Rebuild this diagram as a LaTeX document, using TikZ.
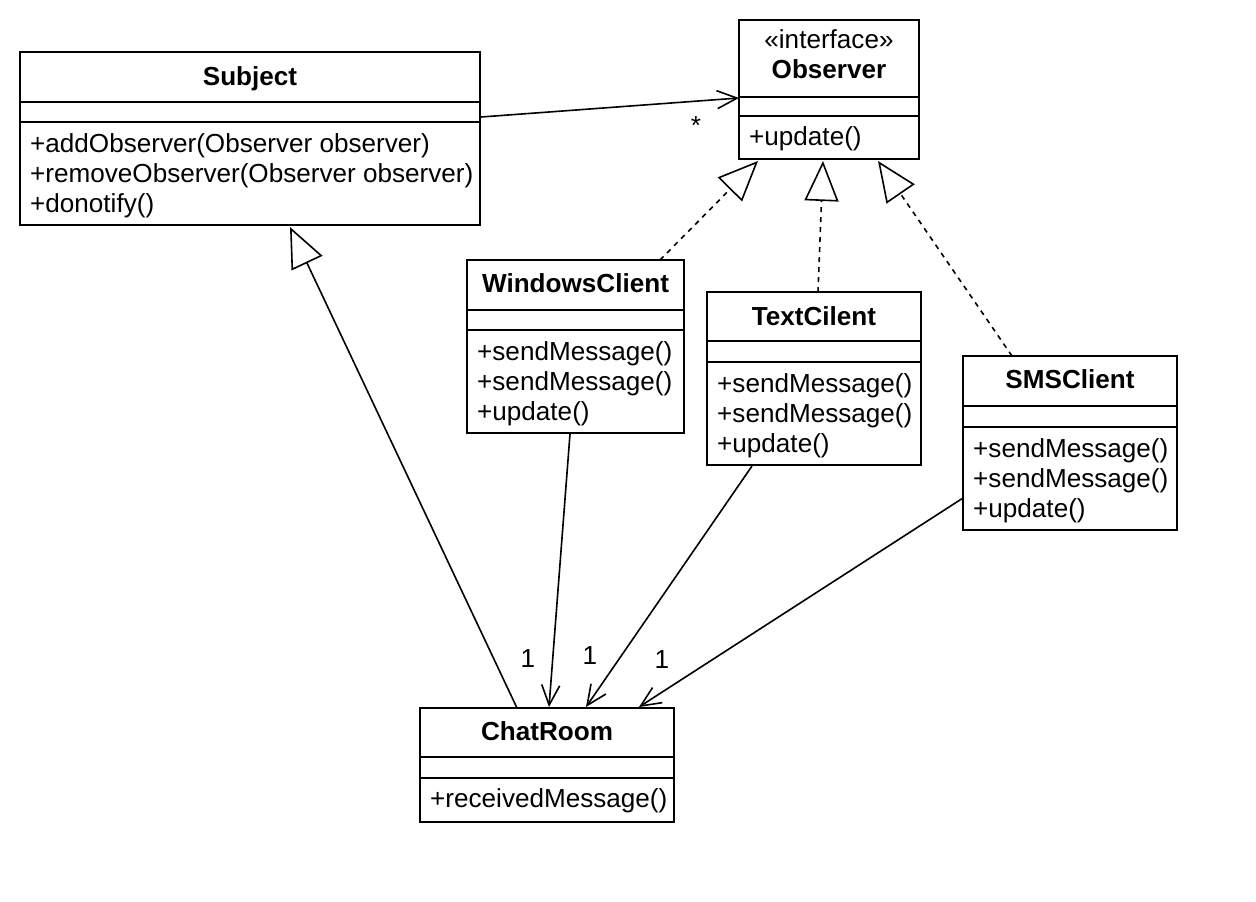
\documentclass[tikz,border=0pt]{standalone}
\usepackage{fontspec}
\setmainfont{Liberation Sans}
\usetikzlibrary{arrows.meta,calc,backgrounds}
\tikzset{
  cls/.style={draw, line width=2pt, fill=white, anchor=north west, inner sep=0pt, outer sep=0pt},
  shd/.style={fill=black!7, draw=none},
  ttl/.style={anchor=base, inner sep=0pt, font=\fontsize{26.1}{30}\selectfont\bfseries},
  stereo/.style={anchor=base, inner sep=0pt, font=\fontsize{26.1}{30}\selectfont},
  mth/.style={anchor=base west, inner sep=0pt, font=\fontsize{26.1}{30}\selectfont},
  lbl/.style={anchor=base, inner sep=0pt, font=\fontsize{26.1}{30}\selectfont},
  sepline/.style={line width=2pt},
  assoc/.style={line width=1.6pt, -{Straight Barb[length=20pt,width=18pt]}},
  gen/.style={line width=1.6pt, -{Triangle[length=40pt,width=34pt,fill=white]}},
  real/.style={gen, dash pattern=on 5pt off 5pt}
}
\begin{document}
\begin{tikzpicture}[x=1pt,y=-1pt]
\useasboundingbox[fill=white] (0,0) rectangle (1256,902);

% ---------- class boxes ----------
\node[cls, minimum width=460pt, minimum height=173pt] (sub)  at (20,52)  {};
\node[cls, minimum width=180pt, minimum height=139pt] (obs)  at (739,20) {};
\node[cls, minimum width=217pt, minimum height=173pt] (wc)   at (467,260) {};
\node[cls, minimum width=214pt, minimum height=173pt] (tc)   at (707,292) {};
\node[cls, minimum width=214pt, minimum height=174pt] (sms)  at (963,356) {};
\node[cls, minimum width=254pt, minimum height=114pt] (chat) at (420,708) {};

% ---------- shadows ----------
\begin{pgfonlayer}{background}
\foreach \b in {sub,obs,wc,tc,sms,chat}{
  \fill[shd] ($(\b.north west)+(14,14)$) rectangle ($(\b.south east)+(14,14)$);
}
\end{pgfonlayer}

% ---------- Subject ----------
\draw[sepline] ($(sub.north west)+(0,50)$) -- ($(sub.north east)+(0,50)$);
\draw[sepline] ($(sub.north west)+(0,70)$) -- ($(sub.north east)+(0,70)$);
\node[ttl] (subT) at ($(sub.north)+(0,33)$) {Subject};
\node[mth] (subM1) at ($(sub.north west)+(10,100)$) {+addObserver(Observer observer)};
\node[mth] (subM2) at ($(sub.north west)+(10,130)$) {+removeObserver(Observer observer)};
\node[mth] (subM3) at ($(sub.north west)+(10,160)$) {+donotify()};

% ---------- Observer ----------
\draw[sepline] ($(obs.north west)+(0,77)$) -- ($(obs.north east)+(0,77)$);
\draw[sepline] ($(obs.north west)+(0,96)$) -- ($(obs.north east)+(0,96)$);
\node[stereo] (obsS) at ($(obs.north)+(0,28)$) {«interface»};
\node[ttl] (obsT) at ($(obs.north)+(0,58)$) {Observer};
\node[mth] (obsM1) at ($(obs.north west)+(10,125)$) {+update()};

% ---------- WindowsClient ----------
\draw[sepline] ($(wc.north west)+(0,50)$) -- ($(wc.north east)+(0,50)$);
\draw[sepline] ($(wc.north west)+(0,70)$) -- ($(wc.north east)+(0,70)$);
\node[ttl] (wcT) at ($(wc.north)+(0,32)$) {WindowsClient};
\node[mth] (wcM1) at ($(wc.north west)+(10,100)$) {+sendMessage()};
\node[mth] (wcM2) at ($(wc.north west)+(10,130)$) {+sendMessage()};
\node[mth] (wcM3) at ($(wc.north west)+(10,160)$) {+update()};

% ---------- TextCilent ----------
\draw[sepline] ($(tc.north west)+(0,49)$) -- ($(tc.north east)+(0,49)$);
\draw[sepline] ($(tc.north west)+(0,70)$) -- ($(tc.north east)+(0,70)$);
\node[ttl] (tcT) at ($(tc.north)+(0,33)$) {TextCilent};
\node[mth] (tcM1) at ($(tc.north west)+(10,100)$) {+sendMessage()};
\node[mth] (tcM2) at ($(tc.north west)+(10,130)$) {+sendMessage()};
\node[mth] (tcM3) at ($(tc.north west)+(10,160)$) {+update()};

% ---------- SMSClient ----------
\draw[sepline] ($(sms.north west)+(0,50)$) -- ($(sms.north east)+(0,50)$);
\draw[sepline] ($(sms.north west)+(0,71)$) -- ($(sms.north east)+(0,71)$);
\node[ttl] (smsT) at ($(sms.north)+(0,32)$) {SMSClient};
\node[mth] (smsM1) at ($(sms.north west)+(10,101)$) {+sendMessage()};
\node[mth] (smsM2) at ($(sms.north west)+(10,131)$) {+sendMessage()};
\node[mth] (smsM3) at ($(sms.north west)+(10,161)$) {+update()};

% ---------- ChatRoom ----------
\draw[sepline] ($(chat.north west)+(0,49)$) -- ($(chat.north east)+(0,49)$);
\draw[sepline] ($(chat.north west)+(0,70)$) -- ($(chat.north east)+(0,70)$);
\node[ttl] (chatT) at ($(chat.north)+(0,32)$) {ChatRoom};
\node[mth] (chatM1) at ($(chat.north west)+(10,99)$) {+receivedMessage()};

% ---------- connectors ----------
% Subject -> Observer (association, many)
\draw[assoc] ($(sub.north east)+(1,65)$) -- ($(obs.north west)+(0,78)$);
\node[lbl] (mStar) at (696,134) {*};

% realizations to Observer
\draw[real] ($(wc.north west)+(193,0)$)  -- ($(obs.south west)+(19,2)$);
\draw[real] ($(tc.north west)+(111,0)$)  -- ($(obs.south west)+(84,2)$);
\draw[real] ($(sms.north west)+(49,0)$)  -- ($(obs.south west)+(139,2)$);

% ChatRoom generalizes Subject
\draw[gen] ($(chat.north west)+(97,0)$) -- ($(sub.south west)+(270,2)$);

% clients -> ChatRoom (associations, 1)
\draw[assoc] ($(wc.south west)+(103,1)$)  -- ($(chat.north west)+(129,-1)$);
\draw[assoc] ($(tc.south west)+(45,1)$)   -- ($(chat.north west)+(166,-1)$);
\draw[assoc] ($(sms.south west)+(0,-32)$) -- ($(chat.north west)+(219,-1)$);
\node[lbl] (m1) at (528,667) {1};
\node[lbl] (m2) at (590,664) {1};
\node[lbl] (m3) at (662,668) {1};
\end{tikzpicture}
\end{document}
